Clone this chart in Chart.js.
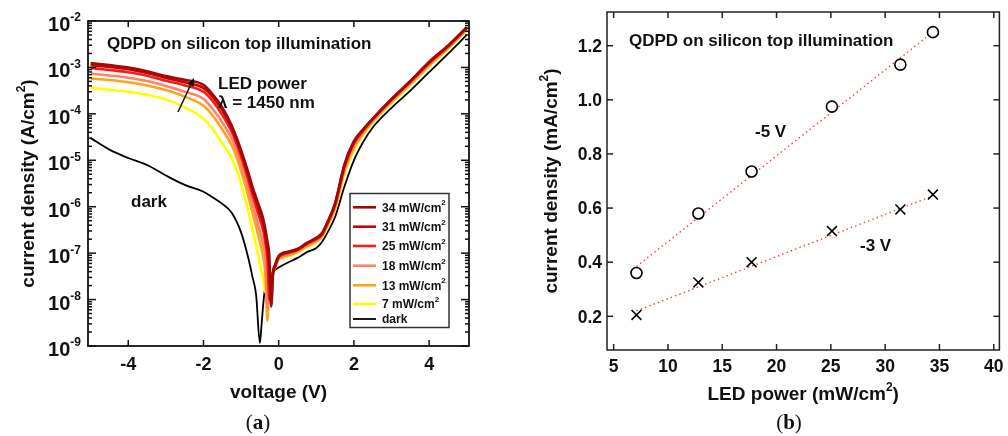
<!DOCTYPE html>
<html>
<head>
<meta charset="utf-8">
<script src="https://cdn.jsdelivr.net/npm/chart.js@4.4.1/dist/chart.umd.min.js"></script>
<style>
  html, body { margin: 0; padding: 0; background: #fff; }
  #wrap { position: relative; width: 1008px; height: 436px; overflow: hidden; }
  .panel { position: absolute; top: 0; width: 504px; height: 436px; }
  #panelA { left: 0; }
  #panelB { left: 504px; }
</style>
</head>
<body>
<div id="wrap">
  <div class="panel" id="panelA"><canvas id="ivChart" width="504" height="436"></canvas></div>
  <div class="panel" id="panelB"><canvas id="powerChart" width="504" height="436"></canvas></div>
</div>
<script>
// ---- (a) current density vs voltage, |J| in A/cm2 ----
const voltage = [-5, -4.5, -4, -3.5, -3, -2.5, -2, -1.75, -1.5, -1.25, -1, -0.8, -0.7, -0.6, -0.5, -0.45, -0.4, -0.35, -0.3, -0.25, -0.2, -0.15, -0.1, 0,
                 0.25, 0.5, 0.75, 1, 1.15, 1.3, 1.5, 1.75, 2, 2.25, 2.5, 3, 3.5, 4, 4.5, 5];

const j34 = [1.24e-3, 1.12e-3, 1.0e-3, 8.3e-4, 6.5e-4, 5.4e-4, 4.2e-4, 2.6e-4, 1.38e-4, 5.6e-5, 1.66e-5, 5.2e-6, 2.75e-6, 1.58e-6, 9.3e-7, 7.1e-7, 5.0e-7, 3.16e-7, 1.78e-7, 8.9e-8, 7.1e-9, 3.9e-8, 5.5e-8, 8.7e-8,
             1.07e-7, 1.23e-7, 1.66e-7, 2.14e-7, 2.7e-7, 4.7e-7, 1.2e-6, 8.3e-6, 2.6e-5, 4.7e-5, 7.9e-5, 2.1e-4, 5.1e-4, 1.32e-3, 2.95e-3, 7.4e-3];
const j31 = [1.13e-3, 1.02e-3, 9.1e-4, 7.6e-4, 5.95e-4, 4.8e-4, 3.6e-4, 2.3e-4, 1.2e-4, 4.9e-5, 1.45e-5, 4.5e-6, 2.3e-6, 1.32e-6, 7.4e-7, 5.6e-7, 4.0e-7, 2.4e-7, 1.26e-7, 5.0e-8, 7.9e-9, 3.7e-8, 5.2e-8, 8.5e-8,
             1.05e-7, 1.2e-7, 1.62e-7, 2.1e-7, 2.6e-7, 4.6e-7, 1.15e-6, 7.8e-6, 2.45e-5, 4.6e-5, 7.8e-5, 2.05e-4, 5.0e-4, 1.29e-3, 2.9e-3, 7.2e-3];
const j25 = [9.75e-4, 8.8e-4, 7.9e-4, 6.6e-4, 5.15e-4, 4.1e-4, 3.0e-4, 1.86e-4, 9.5e-5, 4.1e-5, 1.2e-5, 3.55e-6, 1.82e-6, 9.8e-7, 5.4e-7, 4.0e-7, 2.75e-7, 1.58e-7, 7.9e-8, 1.0e-8, 3.16e-8, 3.7e-8, 5.1e-8, 8.1e-8,
             1.0e-7, 1.17e-7, 1.58e-7, 2.0e-7, 2.5e-7, 4.4e-7, 1.1e-6, 7.2e-6, 2.3e-5, 4.4e-5, 7.6e-5, 2.0e-4, 4.9e-4, 1.23e-3, 2.8e-3, 7.1e-3];
const j18 = [7.35e-4, 6.7e-4, 6.0e-4, 5.1e-4, 4.0e-4, 3.0e-4, 2.1e-4, 1.26e-4, 6.5e-5, 2.9e-5, 8.3e-6, 2.3e-6, 1.12e-6, 5.9e-7, 2.95e-7, 2.1e-7, 1.38e-7, 7.1e-8, 6.3e-9, 3.16e-8, 3.55e-8, 3.8e-8, 5.0e-8, 7.8e-8,
             9.3e-8, 1.1e-7, 1.48e-7, 1.86e-7, 2.4e-7, 4.1e-7, 1.0e-6, 6.3e-6, 2.05e-5, 4.0e-5, 7.1e-5, 1.86e-4, 4.6e-4, 1.15e-3, 2.6e-3, 6.8e-3];
const j13 = [5.8e-4, 5.35e-4, 4.8e-4, 4.1e-4, 3.25e-4, 2.35e-4, 1.5e-4, 9.1e-5, 4.6e-5, 2.1e-5, 6.0e-6, 1.58e-6, 7.6e-7, 3.7e-7, 1.74e-7, 1.2e-7, 7.2e-8, 3.16e-8, 3.5e-9, 3.16e-8, 3.6e-8, 3.9e-8, 4.9e-8, 7.4e-8,
             8.9e-8, 1.07e-7, 1.41e-7, 1.78e-7, 2.35e-7, 4.0e-7, 9.5e-7, 5.75e-6, 1.86e-5, 3.8e-5, 6.8e-5, 1.82e-4, 4.4e-4, 1.1e-3, 2.6e-3, 6.5e-3];
const j7 = [3.6e-4, 3.3e-4, 3.0e-4, 2.57e-4, 2.05e-4, 1.38e-4, 7.9e-5, 4.6e-5, 2.3e-5, 1.12e-5, 3.16e-6, 7.4e-7, 3.3e-7, 1.48e-7, 6.0e-8, 3.8e-8, 2.4e-8, 1.41e-8, 2.8e-8, 3.5e-8, 3.8e-8, 4.2e-8, 4.7e-8, 7.1e-8,
            8.5e-8, 1.02e-7, 1.35e-7, 1.7e-7, 2.2e-7, 3.7e-7, 8.9e-7, 5.1e-6, 1.66e-5, 3.55e-5, 6.5e-5, 1.7e-4, 4.2e-4, 1.05e-3, 2.45e-3, 6.2e-3];
const jDark = [3.0e-5, 1.7e-5, 1.12e-5, 7.9e-6, 4.7e-6, 2.95e-6, 2.1e-6, 1.58e-6, 1.15e-6, 7.4e-7, 2.8e-7, 7.4e-8, 3.16e-8, 1.26e-8, 1.16e-9, 3.3e-9, 9.8e-9, 2.0e-8, 2.6e-8, 3.16e-8, 3.55e-8, 3.9e-8, 4.3e-8, 4.9e-8,
               6.3e-8, 7.9e-8, 1.05e-7, 1.29e-7, 1.74e-7, 2.8e-7, 6.0e-7, 2.75e-6, 1.0e-5, 2.5e-5, 5.1e-5, 1.35e-4, 3.16e-4, 7.9e-4, 1.95e-3, 5.0e-3];

const powerLabels = ['34', '31', '25', '18', '13', '7'];
const powerColors = ['#9e0b0b', '#cc0000', '#ff1a1a', '#ff8466', '#ffa31a', '#ffff00'];
const voltTicks = [-4, -2, 0, 2, 4];
const decadeExps = [-9, -8, -7, -6, -5, -4, -3, -2];

// ---- (b) photocurrent vs LED power, mA/cm2 ----
const ledPower = [7.1, 12.8, 17.7, 25.1, 31.4, 34.4];
const jAtMinus5 = [0.36, 0.58, 0.735, 0.975, 1.13, 1.25];
const jAtMinus3 = [0.205, 0.325, 0.40, 0.515, 0.595, 0.65];
const fitPower = [7.1, 34.4];
const fitMinus5 = [0.384, 1.25];
const fitMinus3 = [0.22, 0.645];
const powerTicks = [5, 10, 15, 20, 25, 30, 35, 40];
const densityTicks = [0.2, 0.4, 0.6, 0.8, 1.0, 1.2];

const FONT = '"Liberation Sans", Arial, sans-serif';

function setFont(ctx, size) {
    ctx.font = `bold ${size}px ${FONT}`;
}

function seg(ctx, x1, y1, x2, y2) {
    ctx.beginPath();
    ctx.moveTo(x1, y1);
    ctx.lineTo(x2, y2);
    ctx.stroke();
}

// text with superscript pieces: parts = [[text, isSup], ...]
function drawRich(ctx, parts, x, y, size, align, supScale = 0.65, raise = 0.45) {
    const supSize = Math.round(size * supScale);
    const widths = parts.map(([t, sup]) => {
        setFont(ctx, sup ? supSize : size);
        return ctx.measureText(t).width;
    });
    const total = widths.reduce((s, w) => s + w, 0);
    let cx = align === 'center' ? x - total / 2 : align === 'right' ? x - total : x;
    ctx.textAlign = 'left';
    ctx.textBaseline = 'alphabetic';
    parts.forEach(([t, sup], i) => {
        setFont(ctx, sup ? supSize : size);
        ctx.fillText(t, cx, sup ? y - size * raise : y);
        cx += widths[i];
    });
}

function drawCaption(ctx, letter, cx, baseline) {
    const plain = '21px "Liberation Serif", "DejaVu Serif", serif';
    const bold = 'bold 21px "Liberation Serif", "DejaVu Serif", serif';
    ctx.font = plain;
    const wp = ctx.measureText('(').width;
    ctx.font = bold;
    const wl = ctx.measureText(letter).width;
    const x = cx - (2 * wp + wl) / 2;
    ctx.textAlign = 'left';
    ctx.font = plain;
    ctx.fillText('(', x, baseline);
    ctx.font = bold;
    ctx.fillText(letter, x + wp, baseline);
    ctx.font = plain;
    ctx.fillText(')', x + wp + wl, baseline);
}

// frame, inward ticks, labels and notes for the I-V panel
const ivDecorations = {
    id: 'ivDecorations',
    afterDraw(chart) {
        const { ctx, chartArea: a, scales: { x, y } } = chart;
        ctx.save();
        ctx.strokeStyle = '#111';
        ctx.fillStyle = '#111';
        ctx.lineWidth = 1.5;

        voltTicks.forEach(v => {
            const px = x.getPixelForValue(v);
            seg(ctx, px, a.bottom, px, a.bottom - 6);
            seg(ctx, px, a.top, px, a.top + 6);
            drawRich(ctx, [[String(v), false]], px, 369.5, 18, 'center');
        });

        decadeExps.forEach(e => {
            const py = y.getPixelForValue(Math.pow(10, e));
            seg(ctx, a.left, py, a.left + 8, py);
            seg(ctx, a.right, py, a.right - 8, py);
            if (e < -2) {
                for (let m = 2; m <= 9; m++) {
                    const pm = y.getPixelForValue(m * Math.pow(10, e));
                    seg(ctx, a.left, pm, a.left + 4, pm);
                    seg(ctx, a.right, pm, a.right - 4, pm);
                }
            }
            drawRich(ctx, [['10', false], [String(e), true]], 81, py + 10, 20, 'right', 0.6, 0.48);
        });

        ctx.lineWidth = 1.8;
        ctx.strokeRect(a.left, a.top, a.right - a.left, a.bottom - a.top);

        // axis titles
        drawRich(ctx, [['voltage (V)', false]], (a.left + a.right) / 2, 398, 19, 'center');
        ctx.save();
        ctx.translate(33.5, (a.top + a.bottom) / 2);
        ctx.rotate(-Math.PI / 2);
        drawRich(ctx, [['current density (A/cm', false], ['2', true], [')', false]], 0, 0, 19, 'center');
        ctx.restore();

        // notes
        drawRich(ctx, [['QDPD on silicon top illumination', false]], 107, 49, 17, 'left');
        drawRich(ctx, [['LED power', false]], 218, 89, 17, 'left');
        drawRich(ctx, [['\u03bb = 1450 nm', false]], 218, 108, 17, 'left');
        drawRich(ctx, [['dark', false]], 131, 207, 17, 'left');

        // arrow for increasing LED power
        ctx.lineWidth = 1.5;
        seg(ctx, 178, 112, 192, 82);
        const ang = Math.atan2(78 - 112, 194 - 178);
        ctx.beginPath();
        ctx.moveTo(194, 78);
        ctx.lineTo(194 - 8 * Math.cos(ang) + 3.5 * Math.sin(ang), 78 - 8 * Math.sin(ang) - 3.5 * Math.cos(ang));
        ctx.lineTo(194 - 8 * Math.cos(ang) - 3.5 * Math.sin(ang), 78 - 8 * Math.sin(ang) + 3.5 * Math.cos(ang));
        ctx.closePath();
        ctx.fill();

        // legend box
        ctx.fillStyle = '#fff';
        ctx.fillRect(350, 193.5, 99, 134);
        ctx.strokeStyle = '#333';
        ctx.lineWidth = 1.5;
        ctx.strokeRect(350, 193.5, 99, 134);
        const rows = [207.3, 226.7, 246, 265.7, 285.3, 304, 319];
        chart.data.datasets.forEach((ds, i) => {
            const ry = rows[i];
            ctx.strokeStyle = ds.borderColor;
            ctx.lineWidth = ds.borderWidth;
            seg(ctx, 353, ry, 376, ry);
            ctx.fillStyle = '#111';
            const parts = i < powerLabels.length
                ? [[powerLabels[i] + ' mW/cm', false], ['2', true]]
                : [['dark', false]];
            drawRich(ctx, parts, 382, ry + 4.4, 12, 'left', 0.7, 0.55);
        });

        ctx.fillStyle = '#111';
        drawCaption(ctx, 'a', 258, 429);
        ctx.restore();
    }
};

// frame, inward ticks, labels and notes for the power panel
const powerDecorations = {
    id: 'powerDecorations',
    afterDraw(chart) {
        const { ctx, chartArea: a, scales: { x, y } } = chart;
        ctx.save();
        ctx.strokeStyle = '#222';
        ctx.fillStyle = '#111';
        ctx.lineWidth = 1.5;

        powerTicks.forEach(p => {
            const px = x.getPixelForValue(p);
            seg(ctx, px, a.bottom, px, a.bottom - 6);
            seg(ctx, px, a.top, px, a.top + 6);
            drawRich(ctx, [[String(p), false]], px, 372, 17.5, 'center');
        });
        densityTicks.forEach(d => {
            const py = y.getPixelForValue(d);
            seg(ctx, a.left, py, a.left + 6, py);
            seg(ctx, a.right, py, a.right - 6, py);
            drawRich(ctx, [[d.toFixed(1), false]], 98, py + 6.2, 17.5, 'right');
        });
        ctx.strokeRect(a.left, a.top, a.right - a.left, a.bottom - a.top);

        drawRich(ctx, [['LED power (mW/cm', false], ['2', true], [')', false]], (a.left + a.right) / 2, 400, 19, 'center');
        ctx.save();
        ctx.translate(53, (a.top + a.bottom) / 2);
        ctx.rotate(-Math.PI / 2);
        drawRich(ctx, [['current density (mA/cm', false], ['2', true], [')', false]], 0, 0, 19, 'center');
        ctx.restore();

        drawRich(ctx, [['QDPD on silicon top illumination', false]], 125, 46, 17, 'left');
        drawRich(ctx, [['-5 V', false]], 251, 137, 17, 'left');
        drawRich(ctx, [['-3 V', false]], 356, 250.5, 17, 'left');

        drawCaption(ctx, 'b', 285, 429);
        ctx.restore();
    }
};

const ivDatasets = [j34, j31, j25, j18, j13, j7].map((series, i) => ({
    label: powerLabels[i] + ' mW/cm2',
    data: voltage.map((v, k) => ({ x: v, y: series[k] })),
    borderColor: powerColors[i],
    borderWidth: 2.6
}));
ivDatasets.push({
    label: 'dark',
    data: voltage.map((v, k) => ({ x: v, y: jDark[k] })),
    borderColor: '#000',
    borderWidth: 1.8
});

new Chart(document.getElementById('ivChart'), {
    type: 'line',
    data: { datasets: ivDatasets },
    options: {
        responsive: false,
        animation: false,
        layout: { padding: { left: 0, top: 21, right: 35, bottom: 0 } },
        plugins: { legend: { display: false }, tooltip: { enabled: false } },
        elements: {
            point: { radius: 0 },
            line: { cubicInterpolationMode: 'monotone', borderJoinStyle: 'round' }
        },
        scales: {
            x: {
                type: 'linear', min: -5.07, max: 5.06,
                grid: { display: false }, border: { display: false }, ticks: { display: false },
                afterFit: s => { s.height = 90; }
            },
            y: {
                type: 'logarithmic', min: 1e-9, max: 1e-2,
                grid: { display: false }, border: { display: false }, ticks: { display: false },
                afterFit: s => { s.width = 88; }
            }
        }
    },
    plugins: [ivDecorations]
});

new Chart(document.getElementById('powerChart'), {
    type: 'scatter',
    data: {
        datasets: [
            {
                label: '-5 V',
                data: ledPower.map((p, i) => ({ x: p, y: jAtMinus5[i] })),
                pointStyle: 'circle', pointRadius: 5.5, borderWidth: 1.6,
                borderColor: '#000', backgroundColor: '#fff', order: 1
            },
            {
                label: '-3 V',
                data: ledPower.map((p, i) => ({ x: p, y: jAtMinus3[i] })),
                pointStyle: 'crossRot', pointRadius: 7, borderWidth: 1.6,
                borderColor: '#000', order: 1
            },
            {
                label: 'fit -5 V',
                data: fitPower.map((p, i) => ({ x: p, y: fitMinus5[i] })),
                showLine: true, pointRadius: 0, borderColor: 'rgba(255,30,30,0.9)',
                borderWidth: 1.4, borderDash: [1.4, 3.2], order: 2
            },
            {
                label: 'fit -3 V',
                data: fitPower.map((p, i) => ({ x: p, y: fitMinus3[i] })),
                showLine: true, pointRadius: 0, borderColor: 'rgba(255,30,30,0.9)',
                borderWidth: 1.4, borderDash: [1.4, 3.2], order: 2
            }
        ]
    },
    options: {
        responsive: false,
        animation: false,
        layout: { padding: { left: 0, top: 12, right: 6, bottom: 0 } },
        plugins: { legend: { display: false }, tooltip: { enabled: false } },
        scales: {
            x: {
                type: 'linear', min: 4.387, max: 40.52,
                grid: { display: false }, border: { display: false }, ticks: { display: false },
                afterFit: s => { s.height = 86; }
            },
            y: {
                type: 'linear', min: 0.0755, max: 1.3245,
                grid: { display: false }, border: { display: false }, ticks: { display: false },
                afterFit: s => { s.width = 103; }
            }
        }
    },
    plugins: [powerDecorations]
});
</script>
</body>
</html>
